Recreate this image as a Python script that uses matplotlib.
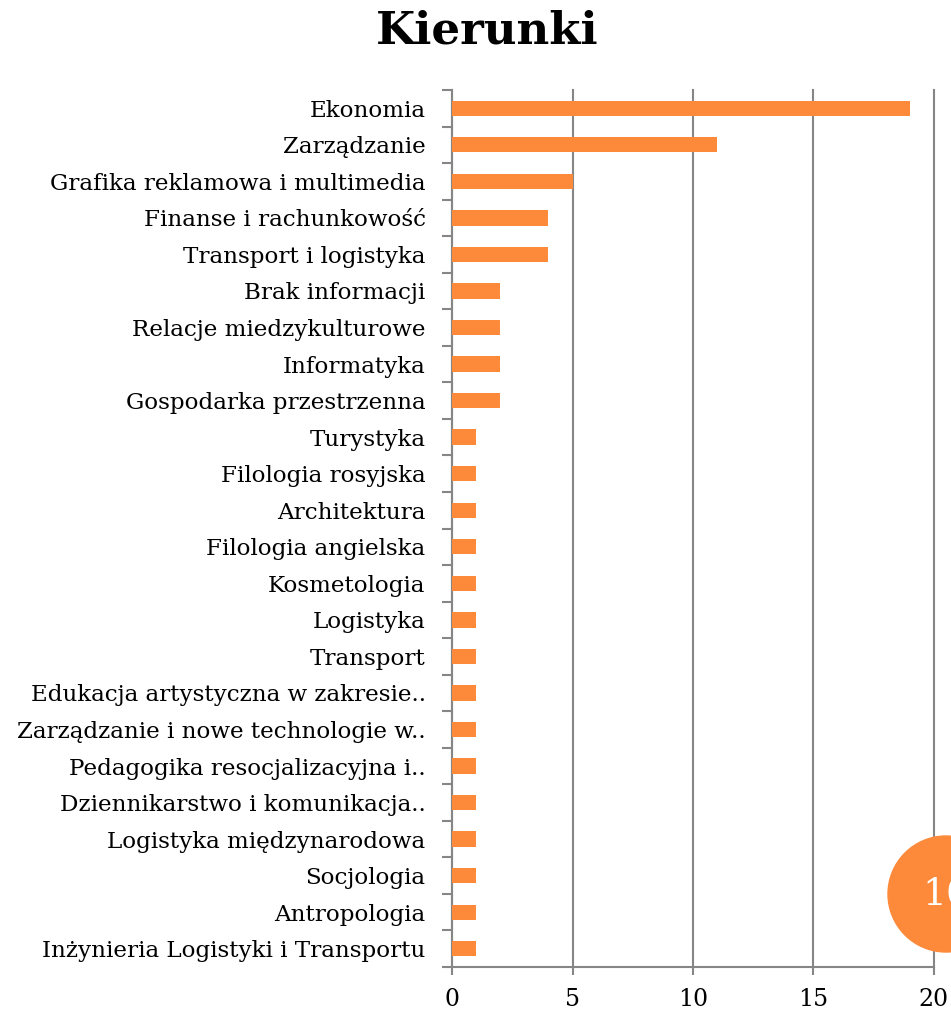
import matplotlib.pyplot as plt
import matplotlib.patches as mpatches
import numpy as np

# kierunki studiow, od gory
kierunki = [
    "Ekonomia",
    "Zarządzanie",
    "Grafika reklamowa i multimedia",
    "Finanse i rachunkowość",
    "Transport i logistyka",
    "Brak informacji",
    "Relacje miedzykulturowe",
    "Informatyka",
    "Gospodarka przestrzenna",
    "Turystyka",
    "Filologia rosyjska",
    "Architektura",
    "Filologia angielska",
    "Kosmetologia",
    "Logistyka",
    "Transport",
    "Edukacja artystyczna w zakresie..",
    "Zarządzanie i nowe technologie w..",
    "Pedagogika resocjalizacyjna i..",
    "Dziennikarstwo i komunikacja..",
    "Logistyka międzynarodowa",
    "Socjologia",
    "Antropologia",
    "Inżynieria Logistyki i Transportu",
]
liczba = [19, 11, 5, 4, 4, 2, 2, 2, 2, 1, 1, 1, 1, 1, 1, 1, 1, 1, 1, 1, 1, 1, 1, 1]
x_ticks = [0, 5, 10, 15, 20]

orange = '#FD8A3B'
gray = '#868686'
plt.rcParams['font.family'] = ['DejaVu Serif']

fig = plt.figure(figsize=(9.51, 10.13), dpi=100)
ax = fig.add_axes([452/951, 46/1013, (934-452)/951, (967-90)/1013])

y = np.arange(len(kierunki))
ax.barh(y, liczba, height=0.42, color=orange, zorder=3)
ax.set_ylim(len(kierunki)-0.5, -0.5)
ax.set_xlim(0, 20)

ax.set_yticks(y)
ax.set_yticklabels(kierunki, fontsize=16.6)
ax.set_yticks(np.arange(len(kierunki)+1)-0.5, minor=True)
ax.tick_params(axis='y', which='major', length=0, pad=19)
ax.tick_params(axis='y', which='minor', length=7, width=1.5, color=gray)
ax.set_xticks(x_ticks)
ax.set_xticklabels([str(t) for t in x_ticks], fontsize=17)
ax.tick_params(axis='x', length=6, width=1.5, color=gray, pad=9)

ax.grid(axis='x', color=gray, linewidth=1.5, zorder=0)
for gl in ax.get_xgridlines():
    gl.set_clip_on(False)
for s in ['top', 'right']:
    ax.spines[s].set_visible(False)
for s in ['left', 'bottom']:
    ax.spines[s].set_color(gray)
    ax.spines[s].set_linewidth(1.5)

fig.text(487/951, 1-31/1013, 'Kierunki', ha='center', va='center',
         fontsize=32.5, fontweight='bold')

# numer strony w kolku (uciety przy prawej krawedzi jak w oryginale)
circ = mpatches.Circle((9.46, 1.19), 0.58, transform=fig.dpi_scale_trans,
                       color=orange, zorder=10)
fig.add_artist(circ)
fig.text(9.46/9.51, 1.19/10.13, '10', ha='center', va='center', color='white',
         fontsize=27, zorder=11)

fig.savefig('out.png', dpi=100)
